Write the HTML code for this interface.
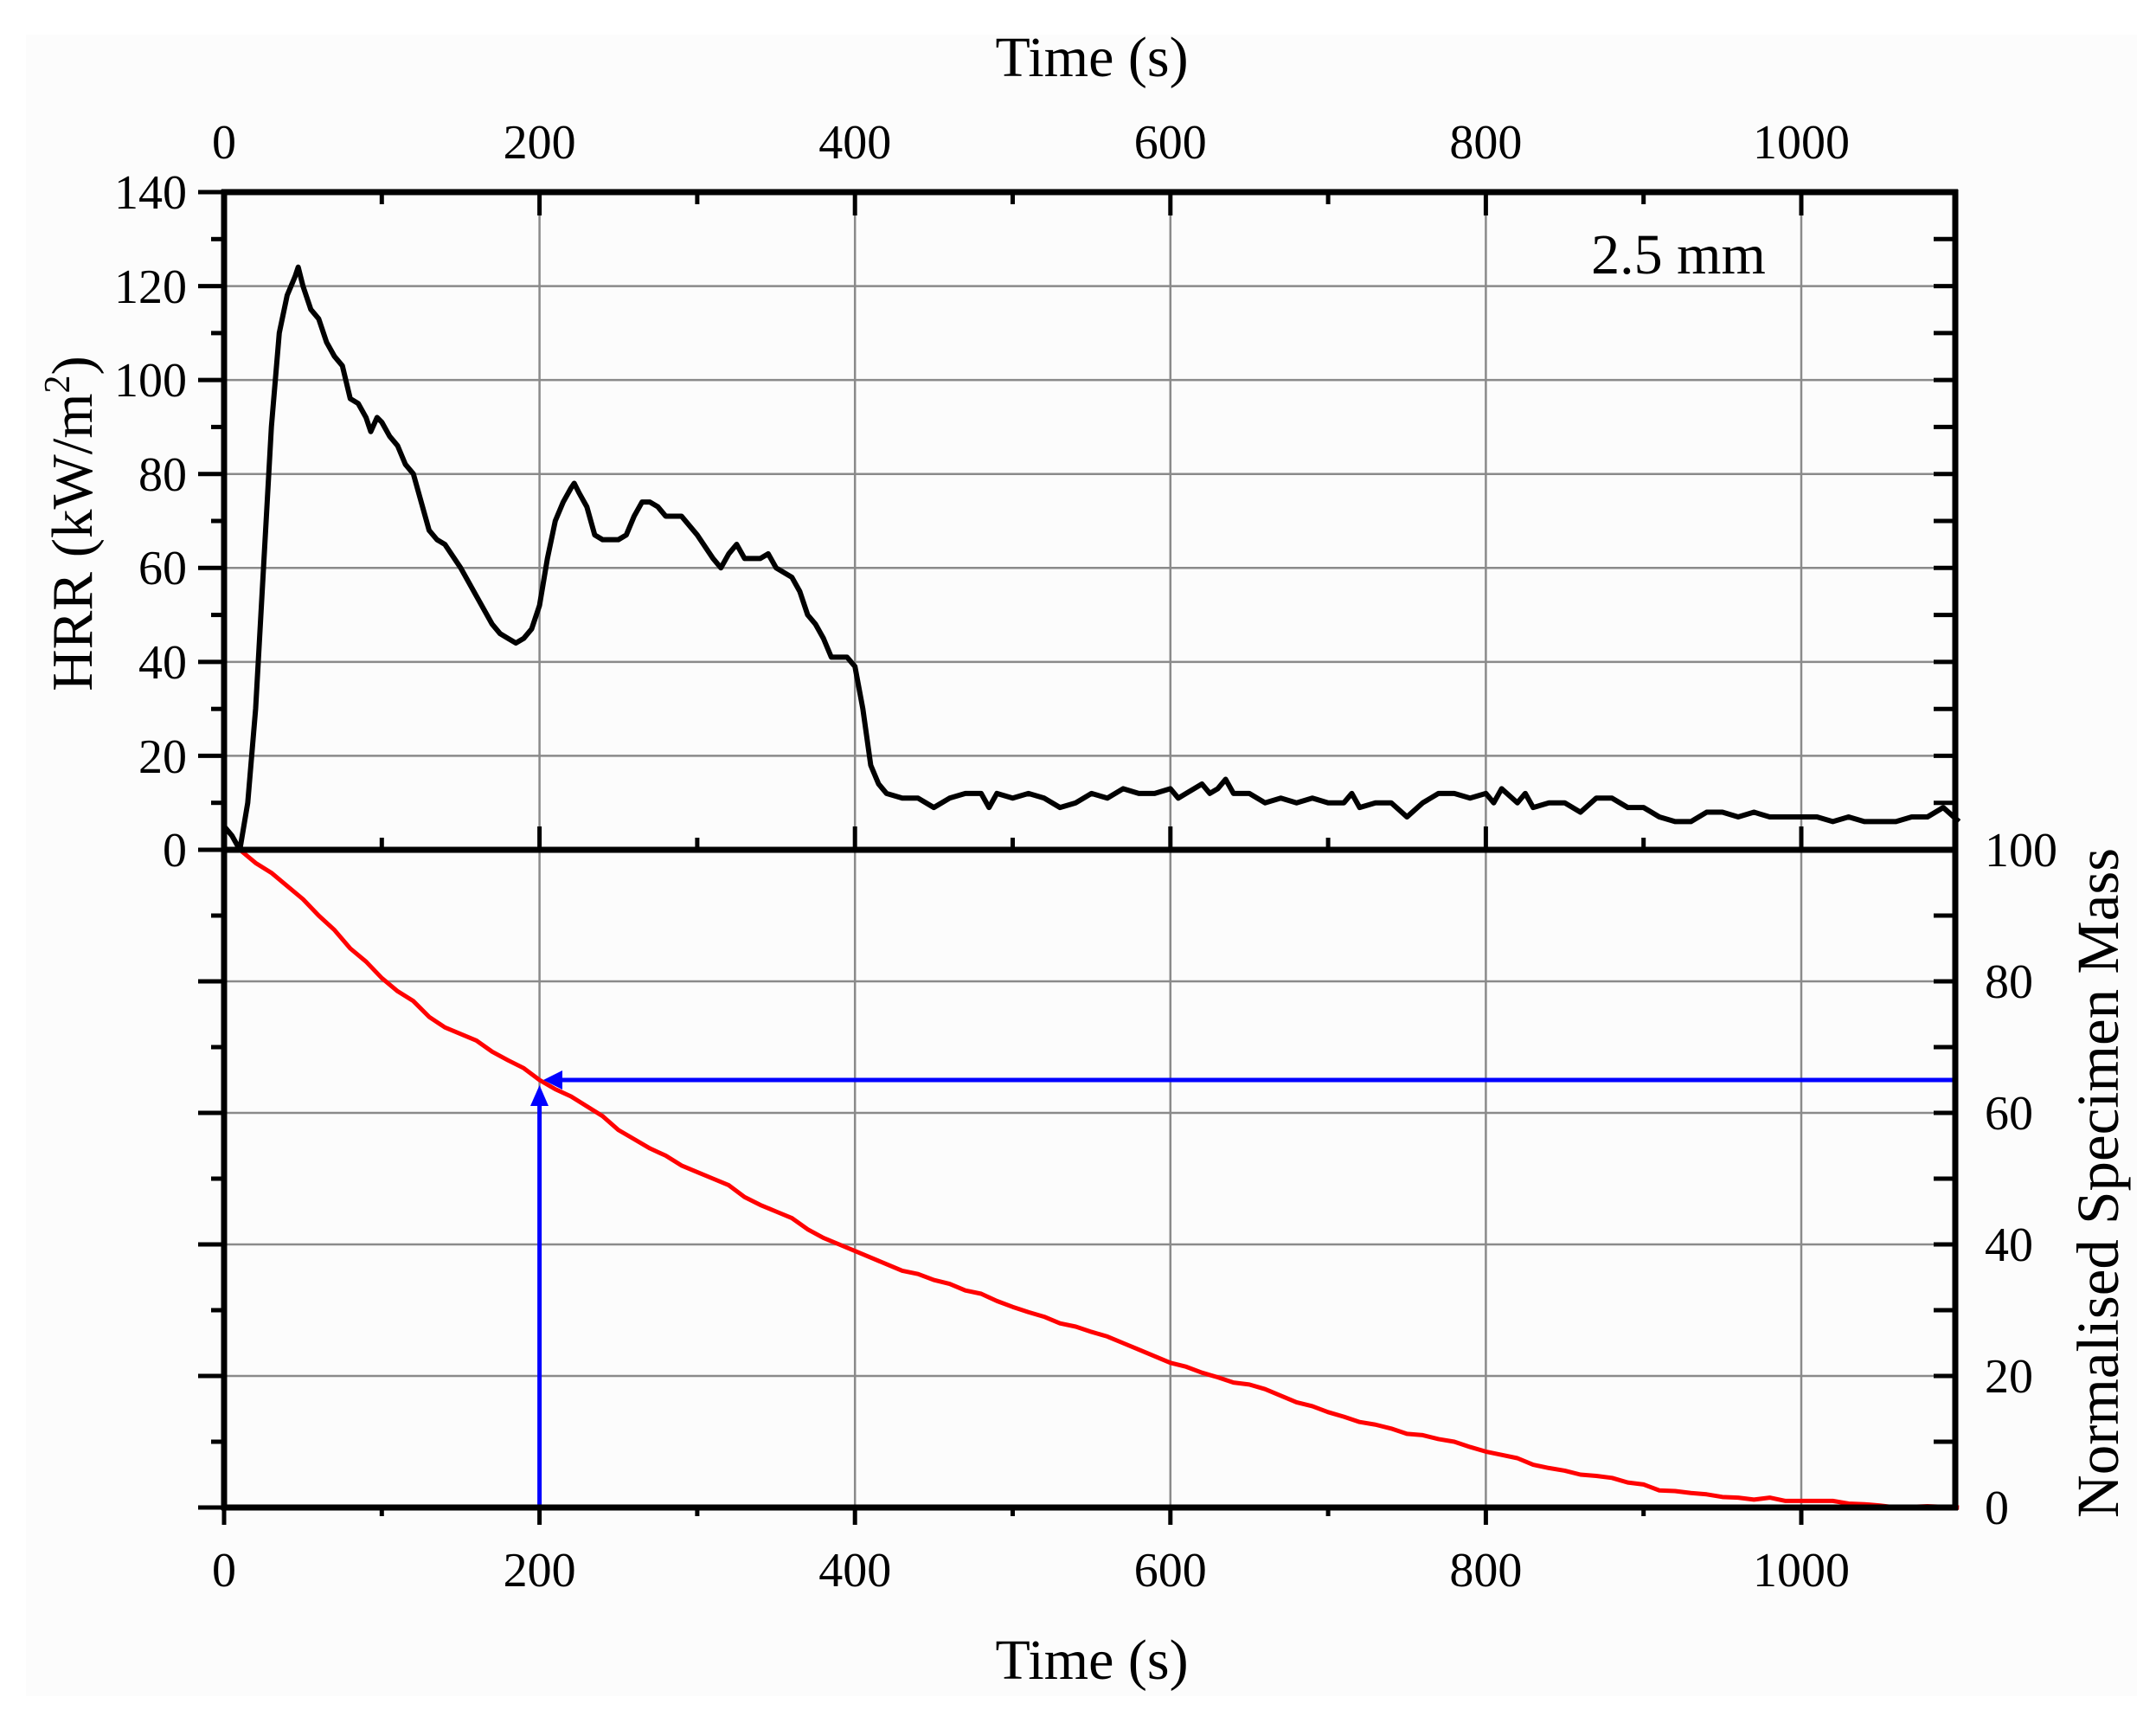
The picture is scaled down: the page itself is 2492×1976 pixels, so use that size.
<!DOCTYPE html>
<html><head><meta charset="utf-8"><style>
html,body{margin:0;padding:0;background:#fff;}
svg{display:block;}
text{font-family:"Liberation Serif",serif;fill:#000;}
</style></head><body>
<svg width="2492" height="1976" viewBox="0 0 2492 1976" xmlns="http://www.w3.org/2000/svg">
<rect x="0" y="0" width="2492" height="1976" fill="#fff"/>
<rect x="30" y="40" width="2440" height="1920" fill="#fcfcfc"/>
<!-- grid -->
<g stroke="#8a8a8a" stroke-width="2.5">
  <line x1="623.6" y1="222" x2="623.6" y2="1742"/>
  <line x1="988.2" y1="222" x2="988.2" y2="1742"/>
  <line x1="1352.8" y1="222" x2="1352.8" y2="1742"/>
  <line x1="1717.4" y1="222" x2="1717.4" y2="1742"/>
  <line x1="2082" y1="222" x2="2082" y2="1742"/>
  <line x1="259" y1="330.6" x2="2260" y2="330.6"/>
  <line x1="259" y1="439.1" x2="2260" y2="439.1"/>
  <line x1="259" y1="547.7" x2="2260" y2="547.7"/>
  <line x1="259" y1="656.3" x2="2260" y2="656.3"/>
  <line x1="259" y1="764.9" x2="2260" y2="764.9"/>
  <line x1="259" y1="873.4" x2="2260" y2="873.4"/>
  <line x1="259" y1="1134" x2="2260" y2="1134"/>
  <line x1="259" y1="1286" x2="2260" y2="1286"/>
  <line x1="259" y1="1438" x2="2260" y2="1438"/>
  <line x1="259" y1="1590" x2="2260" y2="1590"/>
</g>
<!-- HRR -->
<polyline fill="none" stroke="#000" stroke-width="6" vector-effect="non-scaling-stroke" stroke-linejoin="round"
 transform="translate(259,982) scale(1.823,-5.43)"
 points="0,5 5,3 10,0 15,10 20,30 25,60 30,90 35,110 40,118 45,122 47,124 50,120 55,115 60,113 65,108 70,105 75,103 80,96 85,95 90,92 93,89 97,92 100,91 105,88 110,86 115,82 120,80 125,74 130,68 135,66 140,65 150,60 160,54 170,48 175,46 180,45 185,44 190,45 195,47 200,52 205,62 210,70 215,74 220,77 222,78 225,76 230,73 235,67 240,66 250,66 255,67 260,71 265,74 270,74 275,73 280,71 290,71 300,67 310,62 315,60 320,63 325,65 330,62 340,62 345,63 350,60 360,58 365,55 370,50 375,48 380,45 385,41 395,41 400,39 405,30 410,18 415,14 420,12 430,11 440,11 450,9 460,11 470,12 480,12 485,9 490,12 500,11 510,12 520,11 530,9 540,10 550,12 560,11 570,13 580,12 590,12 600,13 605,11 610,12 620,14 625,12 630,13 635,15 640,12 650,12 660,10 670,11 680,10 690,11 700,10 710,10 715,12 720,9 730,10 740,10 750,7 760,10 770,12 780,12 790,11 800,12 805,10 810,13 820,10 825,12 830,9 840,10 850,10 860,8 870,11 880,11 890,9 900,9 910,7 920,6 930,6 940,8 950,8 960,7 970,8 980,7 990,7 1000,7 1010,7 1020,6 1030,7 1040,6 1050,6 1060,6 1070,7 1080,7 1090,9 1100,6"/>
<!-- Mass -->
<polyline fill="none" stroke="#f00" stroke-width="5" vector-effect="non-scaling-stroke" stroke-linejoin="round"
 transform="translate(259,1742) scale(1.823,-7.6)"
 points="10,100 20,98 30,96.5 40,94.5 50,92.5 60,90 70,87.8 80,85 90,83 100,80.5 110,78.5 120,77 130,74.6 140,73 150,72 160,71 170,69.3 180,68 190,66.8 200,65 210,63.6 220,62.5 230,61 240,59.5 250,57.4 260,56 270,54.6 280,53.5 290,52 300,51 310,50 320,49 330,47.2 340,46 350,45 360,44 370,42.3 380,41 390,40 400,39 410,38 420,37 430,36 440,35.5 450,34.6 460,34 470,33 480,32.5 490,31.4 500,30.5 510,29.7 520,29 530,28 540,27.5 550,26.7 560,26 570,25 580,24 590,23 600,22 610,21.4 620,20.5 630,19.8 640,19 650,18.7 660,18 670,17 680,16 690,15.4 700,14.5 710,13.8 720,13 730,12.6 740,12 750,11.2 760,11 770,10.4 780,10 790,9.2 800,8.5 810,8 820,7.5 830,6.5 840,6 850,5.6 860,5 870,4.8 880,4.5 890,3.8 900,3.5 910,2.6 920,2.5 930,2.2 940,2 950,1.6 960,1.5 970,1.2 980,1.5 990,1 1000,1 1010,1 1020,1 1030,0.6 1040,0.5 1050,0.3 1060,0 1080,0.2 1100,0"/>
<!-- blue arrows -->
<g stroke="#0000ff" stroke-width="5" fill="none">
  <line x1="640" y1="1248" x2="2258" y2="1248"/>
  <line x1="623.6" y1="1742" x2="623.6" y2="1265"/>
</g>
<polygon points="628,1248 650,1237 650,1259" fill="#0000ff"/>
<polygon points="623.6,1254 613,1278 634,1278" fill="#0000ff"/>
<!-- frame -->
<g stroke="#000" stroke-width="7" fill="none">
  <line x1="259" y1="219" x2="259" y2="1745"/>
  <line x1="2260" y1="219" x2="2260" y2="1745"/>
  <line x1="256" y1="222" x2="2263" y2="222"/>
  <line x1="256" y1="982" x2="2263" y2="982"/>
  <line x1="256" y1="1742" x2="2263" y2="1742"/>
</g>
<!-- ticks -->
<g stroke="#000" stroke-width="5">
  <line x1="229" y1="222" x2="259" y2="222"/><line x1="244" y1="276.3" x2="259" y2="276.3"/>
  <line x1="229" y1="330.6" x2="259" y2="330.6"/><line x1="244" y1="384.9" x2="259" y2="384.9"/>
  <line x1="229" y1="439.1" x2="259" y2="439.1"/><line x1="244" y1="493.4" x2="259" y2="493.4"/>
  <line x1="229" y1="547.7" x2="259" y2="547.7"/><line x1="244" y1="602" x2="259" y2="602"/>
  <line x1="229" y1="656.3" x2="259" y2="656.3"/><line x1="244" y1="710.6" x2="259" y2="710.6"/>
  <line x1="229" y1="764.9" x2="259" y2="764.9"/><line x1="244" y1="819.2" x2="259" y2="819.2"/>
  <line x1="229" y1="873.4" x2="259" y2="873.4"/><line x1="244" y1="927.7" x2="259" y2="927.7"/>
  <line x1="229" y1="982" x2="259" y2="982"/>
  <line x1="2235" y1="276.3" x2="2260" y2="276.3"/><line x1="2235" y1="330.6" x2="2260" y2="330.6"/>
  <line x1="2235" y1="384.9" x2="2260" y2="384.9"/><line x1="2235" y1="439.1" x2="2260" y2="439.1"/>
  <line x1="2235" y1="493.4" x2="2260" y2="493.4"/><line x1="2235" y1="547.7" x2="2260" y2="547.7"/>
  <line x1="2235" y1="602" x2="2260" y2="602"/><line x1="2235" y1="656.3" x2="2260" y2="656.3"/>
  <line x1="2235" y1="710.6" x2="2260" y2="710.6"/><line x1="2235" y1="764.9" x2="2260" y2="764.9"/>
  <line x1="2235" y1="819.2" x2="2260" y2="819.2"/><line x1="2235" y1="873.4" x2="2260" y2="873.4"/>
  <line x1="2235" y1="927.7" x2="2260" y2="927.7"/>
  <line x1="229" y1="1134" x2="259" y2="1134"/><line x1="244" y1="1210" x2="259" y2="1210"/>
  <line x1="229" y1="1286" x2="259" y2="1286"/><line x1="244" y1="1362" x2="259" y2="1362"/>
  <line x1="229" y1="1438" x2="259" y2="1438"/><line x1="244" y1="1514" x2="259" y2="1514"/>
  <line x1="229" y1="1590" x2="259" y2="1590"/><line x1="244" y1="1666" x2="259" y2="1666"/>
  <line x1="229" y1="1742" x2="259" y2="1742"/><line x1="244" y1="1058" x2="259" y2="1058"/>
  <line x1="2235" y1="1058" x2="2260" y2="1058"/><line x1="2235" y1="1134" x2="2260" y2="1134"/>
  <line x1="2235" y1="1210" x2="2260" y2="1210"/><line x1="2235" y1="1286" x2="2260" y2="1286"/>
  <line x1="2235" y1="1362" x2="2260" y2="1362"/><line x1="2235" y1="1438" x2="2260" y2="1438"/>
  <line x1="2235" y1="1514" x2="2260" y2="1514"/><line x1="2235" y1="1590" x2="2260" y2="1590"/>
  <line x1="2235" y1="1666" x2="2260" y2="1666"/>
  <line x1="623.6" y1="222" x2="623.6" y2="249"/><line x1="988.2" y1="222" x2="988.2" y2="249"/>
  <line x1="1352.8" y1="222" x2="1352.8" y2="249"/><line x1="1717.4" y1="222" x2="1717.4" y2="249"/>
  <line x1="2082" y1="222" x2="2082" y2="249"/>
  <line x1="441.3" y1="222" x2="441.3" y2="236"/><line x1="805.9" y1="222" x2="805.9" y2="236"/>
  <line x1="1170.5" y1="222" x2="1170.5" y2="236"/><line x1="1535.1" y1="222" x2="1535.1" y2="236"/>
  <line x1="1899.7" y1="222" x2="1899.7" y2="236"/>
  <line x1="623.6" y1="955" x2="623.6" y2="982"/><line x1="988.2" y1="955" x2="988.2" y2="982"/>
  <line x1="1352.8" y1="955" x2="1352.8" y2="982"/><line x1="1717.4" y1="955" x2="1717.4" y2="982"/>
  <line x1="2082" y1="955" x2="2082" y2="982"/>
  <line x1="441.3" y1="968" x2="441.3" y2="982"/><line x1="805.9" y1="968" x2="805.9" y2="982"/>
  <line x1="1170.5" y1="968" x2="1170.5" y2="982"/><line x1="1535.1" y1="968" x2="1535.1" y2="982"/>
  <line x1="1899.7" y1="968" x2="1899.7" y2="982"/>
  <line x1="259" y1="1742" x2="259" y2="1762"/>
  <line x1="623.6" y1="1742" x2="623.6" y2="1762"/><line x1="988.2" y1="1742" x2="988.2" y2="1762"/>
  <line x1="1352.8" y1="1742" x2="1352.8" y2="1762"/><line x1="1717.4" y1="1742" x2="1717.4" y2="1762"/>
  <line x1="2082" y1="1742" x2="2082" y2="1762"/>
  <line x1="441.3" y1="1742" x2="441.3" y2="1752"/><line x1="805.9" y1="1742" x2="805.9" y2="1752"/>
  <line x1="1170.5" y1="1742" x2="1170.5" y2="1752"/><line x1="1535.1" y1="1742" x2="1535.1" y2="1752"/>
  <line x1="1899.7" y1="1742" x2="1899.7" y2="1752"/>
</g>
<!-- tick labels -->
<g font-size="56" text-anchor="middle">
  <text x="259" y="183">0</text><text x="623.6" y="183">200</text><text x="988.2" y="183">400</text>
  <text x="1352.8" y="183">600</text><text x="1717.4" y="183">800</text><text x="2082" y="183">1000</text>
  <text x="259" y="1833">0</text><text x="623.6" y="1833">200</text><text x="988.2" y="1833">400</text>
  <text x="1352.8" y="1833">600</text><text x="1717.4" y="1833">800</text><text x="2082" y="1833">1000</text>
</g>
<g font-size="56" text-anchor="end">
  <text x="216" y="241">140</text><text x="216" y="350">120</text><text x="216" y="458">100</text>
  <text x="216" y="567">80</text><text x="216" y="675">60</text><text x="216" y="784">40</text>
  <text x="216" y="893">20</text><text x="216" y="1001">0</text>
</g>
<g font-size="56" text-anchor="start">
  <text x="2294" y="1001">100</text><text x="2294" y="1153">80</text><text x="2294" y="1305">60</text>
  <text x="2294" y="1457">40</text><text x="2294" y="1609">20</text><text x="2294" y="1761">0</text>
</g>
<!-- titles -->
<text x="1262" y="88" font-size="66" text-anchor="middle">Time (s)</text>
<text x="1262" y="1940" font-size="66" text-anchor="middle">Time (s)</text>
<text x="1940" y="316" font-size="66" text-anchor="middle">2.5 mm</text>
<text transform="translate(106,605) rotate(-90)" font-size="67" text-anchor="middle">HRR (kW/m<tspan font-size="42" dy="-26">2</tspan><tspan dy="26">)</tspan></text>
<text transform="translate(2448,1367) rotate(-90)" font-size="69" text-anchor="middle">Normalised Specimen Mass</text>
</svg>
</body></html>
